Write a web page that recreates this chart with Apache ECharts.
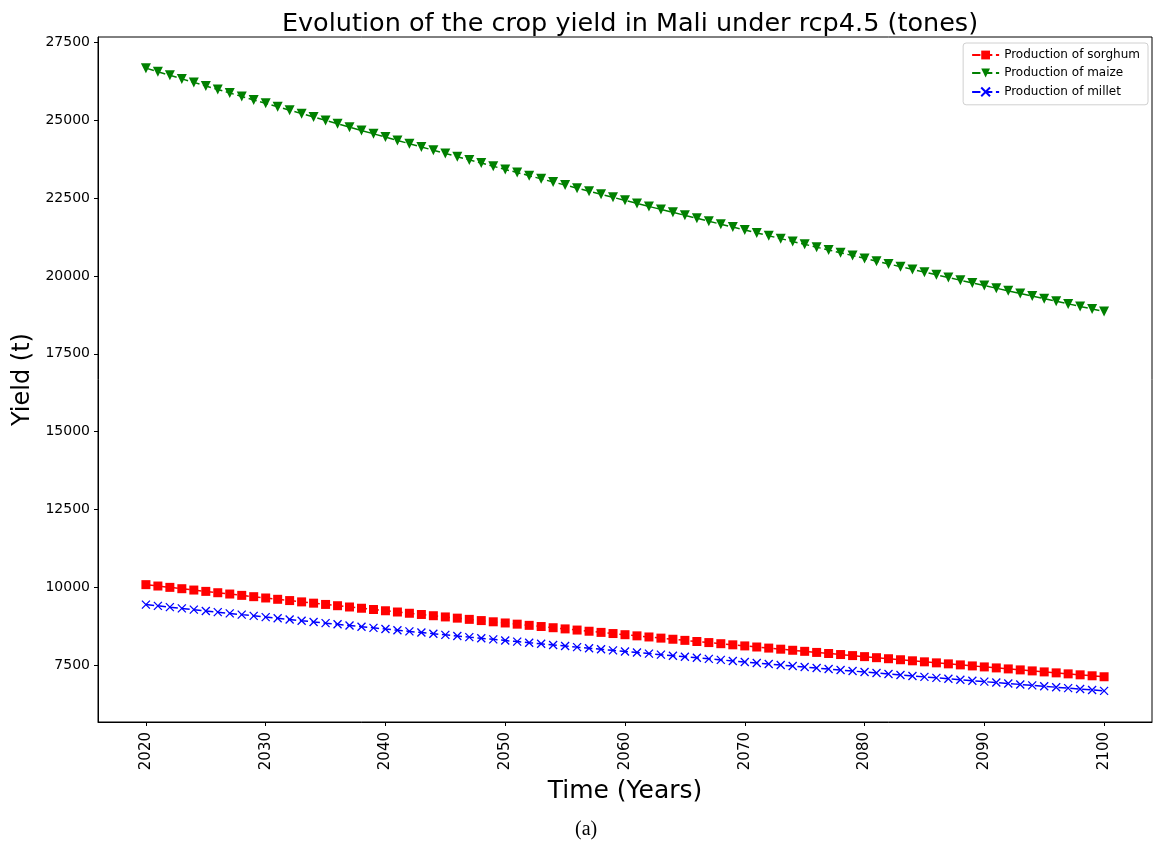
<!DOCTYPE html>
<html>
<head>
<meta charset="utf-8">
<script src="https://cdn.jsdelivr.net/npm/echarts@6/dist/echarts.min.js"></script>
<style>
html,body{margin:0;padding:0;background:#fff;}
#chart{width:1157px;height:846px;}
</style>
</head>
<body>
<div id="chart"></div>
<script>
const years = [];
for (let y = 2020; y <= 2100; y++) years.push(y);

const sorghum = [
10090,10046,10003,9960,9917,9874,9831,9789,9746,9704,
9662,9620,9579,9537,9496,9455,9414,9373,9333,9292,
9252,9212,9172,9133,9093,9054,9015,8976,8937,8898,
8860,8822,8784,8746,8708,8670,8633,8595,8558,8521,
8484,8447,8411,8374,8338,8302,8266,8231,8195,8159,
8124,8089,8054,8019,7984,7950,7915,7881,7847,7813,
7780,7746,7713,7680,7646,7613,7580,7548,7515,7482,
7450,7418,7386,7354,7322,7290,7259,7227,7196,7165,
7134];

const maize = [
26667,26552,26437,26322,26209,26095,25982,25870,25758,25647,
25536,25426,25316,25206,25097,24989,24880,24773,24666,24559,
24453,24347,24242,24137,24033,23929,23825,23722,23620,23517,
23416,23315,23214,23113,23013,22914,22815,22716,22618,22520,
22423,22326,22229,22133,22038,21942,21847,21753,21659,21565,
21472,21379,21287,21195,21103,21012,20921,20830,20740,20651,
20561,20472,20384,20295,20208,20120,20033,19947,19860,19774,
19689,19604,19519,19435,19351,19267,19184,19101,19018,18936,
18854];

const millet = [
9450,9409,9368,9328,9288,9247,9207,9168,9128,9089,
9049,9010,8971,8932,8894,8855,8817,8779,8741,8703,
8665,8628,8590,8553,8516,8479,8443,8406,8370,8334,
8298,8262,8226,8191,8155,8120,8085,8050,8015,7981,
7946,7912,7877,7843,7809,7776,7742,7709,7675,7642,
7609,7576,7543,7511,7478,7446,7414,7382,7350,7318,
7286,7255,7223,7192,7161,7130,7099,7068,7038,7007,
6977,6947,6917,6887,6857,6827,6798,6769,6739,6710,
6681];

const xTicks = [2020,2030,2040,2050,2060,2070,2080,2090,2100];
const yTicks = [7500,10000,12500,15000,17500,20000,22500,25000,27500];

const seriesNames = ['Production of sorghum','Production of maize','Production of millet'];

const pairs = arr => years.map((y,i) => [y, arr[i]]);
const FONT = 'DejaVu Sans';

const chart = echarts.init(document.getElementById('chart'), null, {renderer:'canvas'});
const dash = [8.3, 3.6];
chart.setOption({
  animation: false,
  backgroundColor: '#fff',
  title: {
    text: 'Evolution of the crop yield in Mali under rcp4.5 (tones)',
    left: 625, top: 6, textAlign: 'center',
    textStyle: {fontFamily: FONT, fontSize: 25.5, fontWeight: 'normal', color: '#000'}
  },
  grid: {left: 98, top: 37, width: 1054, height: 685, show: true, borderColor: '#000', borderWidth: 1, backgroundColor: 'transparent'},
  legend: {
    right: 9, top: 43, orient: 'vertical',
    data: seriesNames,
    itemWidth: 27, itemHeight: 11, itemGap: 6,
    padding: [6, 8, 6, 8],
    borderColor: '#d0d0d0', borderWidth: 1, borderRadius: 3,
    backgroundColor: '#fff',
    textStyle: {fontFamily: FONT, fontSize: 12, color: '#000'}
  },
  xAxis: {
    type: 'value', min: 2016, max: 2104,
    name: 'Time (Years)', nameLocation: 'middle', nameGap: 57,
    nameTextStyle: {fontFamily: FONT, fontSize: 25, color: '#000'},
    axisLine: {show: true, onZero: false, lineStyle: {color: '#000', width: 1}},
    axisTick: {show: true, length: 4, customValues: xTicks, lineStyle: {color: '#000'}},
    axisLabel: {customValues: xTicks, rotate: 90, margin: 10, fontFamily: FONT, fontSize: 15, color: '#000', formatter: v => String(v)},
    splitLine: {show: false}
  },
  yAxis: {
    type: 'value', min: 5682, max: 27666,
    name: 'Yield (t)', nameLocation: 'middle', nameGap: 58,
    nameTextStyle: {fontFamily: FONT, fontSize: 24, color: '#000'},
    axisLine: {show: true, onZero: false, lineStyle: {color: '#000', width: 1}},
    axisTick: {show: true, length: 4, customValues: yTicks, lineStyle: {color: '#000'}},
    axisLabel: {customValues: yTicks, margin: 8, fontFamily: FONT, fontSize: 14, color: '#000', formatter: v => String(v)},
    splitLine: {show: false}
  },
  graphic: [{
    type: 'text', left: 575, top: 820,
    style: {text: '(a)', font: '20px "Liberation Serif"', fill: '#000'}
  }],
  series: [
    {
      name: seriesNames[0], type: 'line', data: pairs(sorghum),
      symbol: 'rect', symbolSize: 9, showAllSymbol: true,
      lineStyle: {color: '#ff0000', width: 1.5, type: dash},
      itemStyle: {color: '#ff0000'}
    },
    {
      name: seriesNames[1], type: 'line', data: pairs(maize),
      symbol: 'triangle', symbolRotate: 180, symbolSize: 10, showAllSymbol: true,
      lineStyle: {color: '#008000', width: 1.5, type: dash},
      itemStyle: {color: '#008000'}
    },
    {
      name: seriesNames[2], type: 'line', data: pairs(millet),
      symbol: 'path://M0,0L10,10M10,0L0,10', symbolSize: 8, showAllSymbol: true,
      lineStyle: {color: '#0000ff', width: 1.5, type: dash},
      itemStyle: {color: 'none', borderColor: '#0000ff', borderWidth: 1.3}
    }
  ]
});
</script>
</body>
</html>
